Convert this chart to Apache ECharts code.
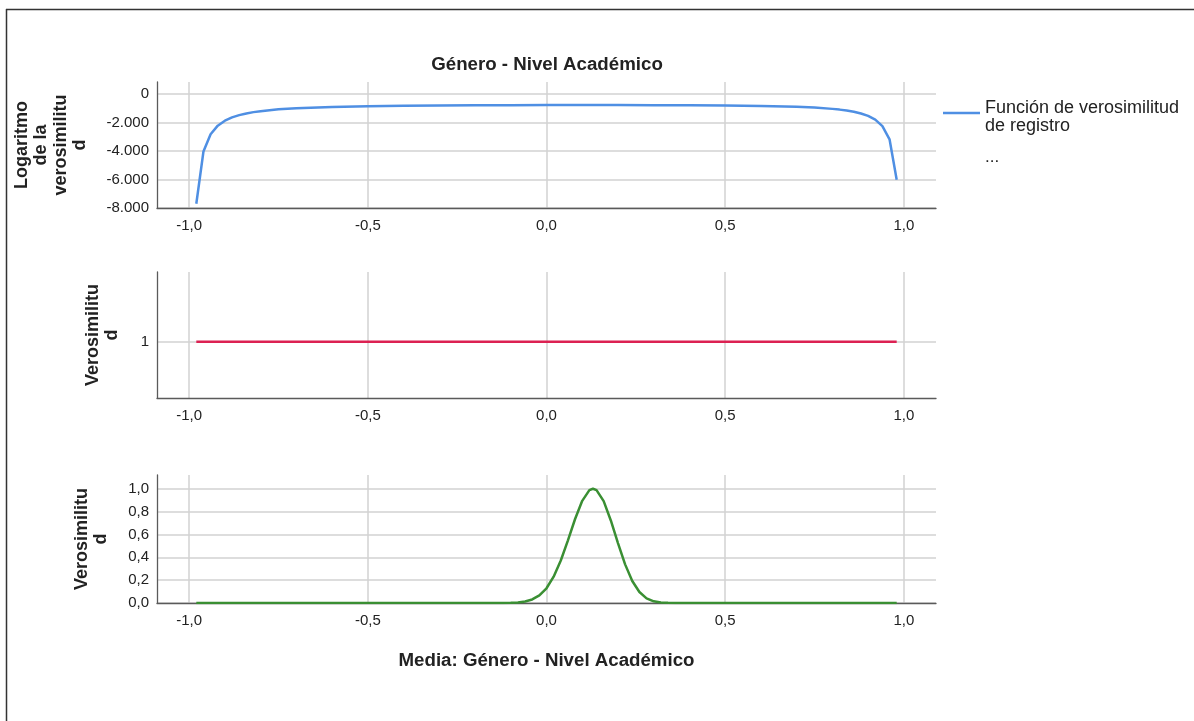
<!DOCTYPE html>
<html>
<head>
<meta charset="utf-8">
<title>Género - Nivel Académico</title>
<script src="https://cdn.jsdelivr.net/npm/echarts@6/dist/echarts.min.js"></script>
<style>
  html, body { margin: 0; padding: 0; background: #fff; }
  #chart { width: 1194px; height: 721px; }
</style>
</head>
<body>
<div id="chart"></div>
<script>
// datos
const rhoLog = [-0.98, -0.96, -0.94, -0.92, -0.90, -0.88, -0.86, -0.84, -0.82, -0.80, -0.75, -0.70, -0.60, -0.50, -0.40, -0.30, -0.20, -0.10, 0, 0.10, 0.13, 0.20, 0.30, 0.40, 0.50, 0.60, 0.70, 0.75, 0.80, 0.82, 0.84, 0.86, 0.88, 0.90, 0.92, 0.94, 0.96, 0.98];
const logLik = [-7700, -4030, -2810, -2210, -1860, -1630, -1470, -1350, -1258, -1190, -1060, -980, -890, -840, -810, -790, -780, -770, -766, -765, -764, -765, -770, -780, -795, -825, -885, -940, -1030, -1082, -1150, -1235, -1355, -1525, -1790, -2240, -3170, -6010];

const rhoFlat = [-0.98, 0.98];
const flatLik = [1, 1];

const rhoLik = [-0.98, -0.14, -0.12, -0.10, -0.08, -0.06, -0.04, -0.02, 0, 0.02, 0.04, 0.06, 0.08, 0.10, 0.12, 0.13, 0.14, 0.16, 0.18, 0.20, 0.22, 0.24, 0.26, 0.28, 0.30, 0.32, 0.34, 0.36, 0.38, 0.98];
const lik = [0, 0, 0.0005, 0.0016, 0.005, 0.013, 0.031, 0.066, 0.129, 0.23, 0.372, 0.548, 0.735, 0.894, 0.988, 1.0, 0.988, 0.891, 0.722, 0.524, 0.338, 0.192, 0.096, 0.041, 0.015, 0.005, 0.0013, 0.0003, 0, 0];

const xTicks = [-1.0, -0.5, 0.0, 0.5, 1.0];
const legendLines = ['Función de verosimilitud', 'de registro'];

const FONT = '"Liberation Sans", Arial, sans-serif';
const GRID_C = '#d2d2d2';
const AXIS_C = '#5a5a5a';
const TXT = '#222';

const pairs = (xs, ys) => xs.map((x, i) => [x, ys[i]]);
const comma = v => v.toFixed(1).replace('.', ',');
const miles = v => (v < 0 ? '-' : '') + String(Math.abs(v)).replace(/\B(?=(\d{3})+(?!\d))/g, '.');

function xAxisCfg(idx, extra) {
  return Object.assign({
    type: 'value', gridIndex: idx, min: -1.09, max: 1.09,
    axisLine: { show: true, onZero: false, lineStyle: { color: AXIS_C, width: 1.3 } },
    axisTick: { show: false },
    splitLine: { show: true, showMinLine: false, showMaxLine: false, lineStyle: { color: GRID_C, width: 1.5 } },
    axisLabel: {
      margin: 10, fontSize: 15, color: TXT, fontFamily: FONT,
      showMinLabel: false, showMaxLabel: false,
      formatter: v => xTicks.some(t => Math.abs(t - v) < 1e-9) ? comma(v) : ''
    }
  }, extra || {});
}

function nameStyle() {
  return { fontWeight: 'bold', fontSize: 18, lineHeight: 19.5, color: TXT, fontFamily: FONT, align: 'center' };
}

let chart = echarts.init(document.getElementById('chart'));

const option = {
  animation: false,
  backgroundColor: '#fff',
  grid: [
    { left: 157, width: 779, top: 82, height: 126 },
    { left: 157, width: 779, top: 272, height: 126 },
    { left: 157, width: 779, top: 475, height: 128 }
  ],
  xAxis: [
    xAxisCfg(0),
    xAxisCfg(1),
    xAxisCfg(2, {
      name: 'Media: Género - Nivel Académico', nameLocation: 'middle', nameGap: 48,
      nameTextStyle: { fontWeight: 'bold', fontSize: 18.7, color: TXT, fontFamily: FONT }
    })
  ],
  yAxis: [
    {
      type: 'value', gridIndex: 0, min: -8000, max: 860, interval: 2000,
      name: 'Logaritmo\nde la\nverosimilitu\nd', nameLocation: 'middle', nameRotate: 90, nameGap: 67,
      nameTextStyle: nameStyle(),
      axisLine: { show: true, onZero: false, lineStyle: { color: AXIS_C, width: 1.3 } },
      axisTick: { show: false },
      splitLine: { show: true, showMaxLine: false, lineStyle: { color: GRID_C, width: 1.5 } },
      axisLabel: { margin: 8, fontSize: 15, color: TXT, fontFamily: FONT, showMaxLabel: false,
        formatter: v => v === 0 ? '0' : miles(v) }
    },
    {
      type: 'value', gridIndex: 1, min: 0, max: 2.24, interval: 1,
      name: 'Verosimilitu\nd', nameLocation: 'middle', nameRotate: 90, nameGap: 35,
      nameTextStyle: nameStyle(),
      axisLine: { show: true, onZero: false, lineStyle: { color: AXIS_C, width: 1.3 } },
      axisTick: { show: false },
      splitLine: { show: true, lineStyle: { color: ['rgba(0,0,0,0)', GRID_C, 'rgba(0,0,0,0)', 'rgba(0,0,0,0)'], width: 1.5 } },
      axisLabel: { margin: 8, fontSize: 15, color: TXT, fontFamily: FONT,
        formatter: v => v === 1 ? '1' : '' }
    },
    {
      type: 'value', gridIndex: 2, min: 0, max: 1.12, interval: 0.2,
      name: 'Verosimilitu\nd', nameLocation: 'middle', nameRotate: 90, nameGap: 46,
      nameTextStyle: nameStyle(),
      axisLine: { show: true, onZero: false, lineStyle: { color: AXIS_C, width: 1.3 } },
      axisTick: { show: false },
      splitLine: { show: true, showMaxLine: false, lineStyle: { color: GRID_C, width: 1.5 } },
      axisLabel: { margin: 8, fontSize: 15, color: TXT, fontFamily: FONT, showMaxLabel: false,
        formatter: v => comma(v) }
    }
  ],
  legend: {
    left: 943, top: 91, padding: 0, orient: 'vertical',
    icon: 'rect', itemWidth: 37, itemHeight: 2.5,
    data: [legendLines.join(' ')],
    // línea vacía arriba para bajar el texto respecto del icono
    formatter: () => '{s| }\n' + legendLines.map(l => '{t|' + l + '}').join('\n'),
    textStyle: {
      color: TXT, fontFamily: FONT,
      rich: {
        s: { fontSize: 8, lineHeight: 8, fontFamily: FONT },
        t: { fontSize: 18, lineHeight: 18, color: TXT, fontFamily: FONT }
      }
    }
  },
  graphic: [
    { type: 'line', shape: { x1: 6, y1: 9.5, x2: 1194, y2: 9.5 }, style: { stroke: '#333', lineWidth: 1.5 } },
    { type: 'line', shape: { x1: 6.5, y1: 9, x2: 6.5, y2: 721 }, style: { stroke: '#333', lineWidth: 1.5 } },
    { type: 'text', x: 547, y: 65,
      style: { text: 'Género - Nivel Académico', font: 'bold 18.7px ' + FONT, fill: TXT, align: 'center', verticalAlign: 'middle' } },
    { type: 'text', x: 985, y: 157,
      style: { text: '...', font: '17px ' + FONT, fill: TXT, align: 'left', verticalAlign: 'middle' } }
  ],
  series: [
    {
      name: legendLines.join(' '), type: 'line', xAxisIndex: 0, yAxisIndex: 0,
      data: pairs(rhoLog, logLik), showSymbol: false, color: '#4f8fe3',
      lineStyle: { width: 2.5 }
    },
    {
      name: 'Verosimilitud', type: 'line', xAxisIndex: 1, yAxisIndex: 1,
      data: pairs(rhoFlat, flatLik), showSymbol: false, color: '#dc2152',
      lineStyle: { width: 2.5 }
    },
    {
      name: 'Verosimilitud normalizada', type: 'line', xAxisIndex: 2, yAxisIndex: 2,
      data: pairs(rhoLik, lik), showSymbol: false, color: '#3a8f33',
      lineStyle: { width: 2.5 }
    }
  ]
};

chart.setOption(option);
</script>
</body>
</html>
